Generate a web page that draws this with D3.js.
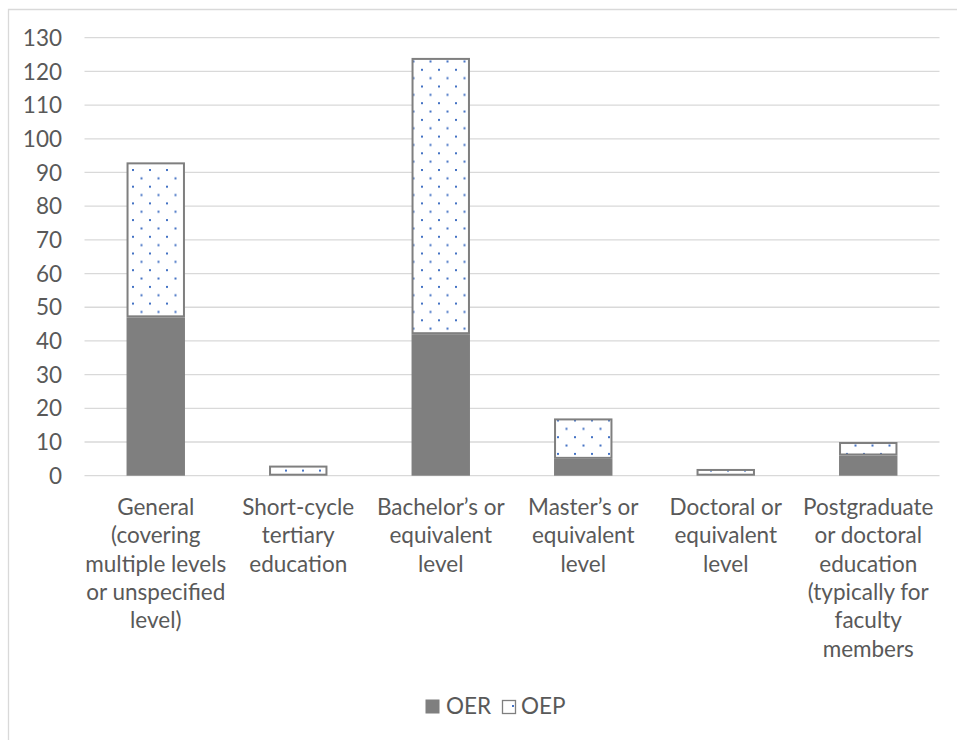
<!DOCTYPE html>
<html>
<head>
<meta charset="utf-8">
<script src="https://cdn.jsdelivr.net/npm/d3@7"></script>
<style>
  html, body { margin: 0; padding: 0; background: #fff; }
  svg { display: block; }
</style>
</head>
<body>
<svg id="chart" width="957" height="740"></svg>
<script>
// ---- data ----
const categories = [
  "General (covering multiple levels or unspecified level)",
  "Short-cycle tertiary education",
  "Bachelor’s or equivalent level",
  "Master’s or equivalent level",
  "Doctoral or equivalent level",
  "Postgraduate or doctoral education (typically for faculty members"
];
const categoryLines = [
  ["General", "(covering", "multiple levels", "or unspecified", "level)"],
  ["Short-cycle", "tertiary", "education"],
  ["Bachelor’s or", "equivalent", "level"],
  ["Master’s or", "equivalent", "level"],
  ["Doctoral or", "equivalent", "level"],
  ["Postgraduate", "or doctoral", "education", "(typically for", "faculty", "members"]
];
const oerValues = [47, 0, 42, 5, 0, 6];
const oepValues = [46, 3, 82, 12, 2, 4];
const seriesNames = ["OER", "OEP"];
const yTicks = [0, 10, 20, 30, 40, 50, 60, 70, 80, 90, 100, 110, 120, 130];

// ---- layout ----
const W = 957, H = 740;
const plot = { left: 84.5, right: 939.5, top: 37.7, bottom: 475.7 };
const textColor = "#595959";
const gridColor = "#d9d9d9";
const barGray = "#7f7f7f";
const dotBlue = "#4472c4";
const fontFamily = "Lato, 'Open Sans', sans-serif";

const svg = d3.select("#chart");

// fit font size so that Calibri-like widths are matched
const probe = svg.append("text").attr("font-family", fontFamily).attr("font-size", 100).text("multiple levels");
const probeW = probe.node().getComputedTextLength();
probe.remove();
const fs = Math.min(23, 100 * 141 / probeW);

// chart frame (cropped on the right/bottom in the reference)
svg.append("path")
  .attr("d", `M8.5,${H + 5} L8.5,9.5 L${W + 5},9.5`)
  .attr("fill", "none").attr("stroke", gridColor).attr("stroke-width", 1.3);

// pattern
const defs = svg.append("defs");
const pat = defs.append("pattern")
  .attr("id", "dots").attr("patternUnits", "userSpaceOnUse")
  .attr("width", 17).attr("height", 16.7)
  .attr("x", 132).attr("y", 169);
pat.append("rect").attr("width", 17).attr("height", 16.7).attr("fill", "#fff");
pat.append("rect").attr("x", 0).attr("y", 0).attr("width", 2).attr("height", 2).attr("fill", dotBlue);
pat.append("rect").attr("x", 8.5).attr("y", 8.35).attr("width", 2).attr("height", 2).attr("fill", dotBlue);

// scales
const x = d3.scaleBand().domain(categories).range([plot.left, plot.right]).paddingInner(0.59).paddingOuter(0.295);
const y = d3.scaleLinear().domain([0, 130]).range([plot.bottom, plot.top]);

// gridlines
svg.append("g").selectAll("line").data(yTicks).join("line")
  .attr("x1", plot.left).attr("x2", plot.right)
  .attr("y1", d => y(d)).attr("y2", d => y(d))
  .attr("stroke", gridColor).attr("stroke-width", 1.3);

// y axis labels
const yAxis = d3.axisLeft(y).tickValues(yTicks).tickSize(0).tickPadding(0);
const yg = svg.append("g").attr("transform", `translate(62,0)`).call(yAxis);
yg.select(".domain").remove();
yg.selectAll("text")
  .attr("font-family", fontFamily).attr("font-size", fs)
  .attr("fill", textColor).attr("dy", "0.34em");

// stacked data
const tableRows = categories.map((c, i) => ({ cat: c, OER: oerValues[i], OEP: oepValues[i] }));
const stacked = d3.stack().keys(seriesNames)(tableRows);

// OER bars
svg.append("g").selectAll("rect").data(stacked[0]).join("rect")
  .attr("x", d => x(d.data.cat)).attr("width", x.bandwidth())
  .attr("y", d => y(d[1])).attr("height", d => y(d[0]) - y(d[1]))
  .attr("fill", barGray);

// OEP bars
svg.append("g").selectAll("rect").data(stacked[1]).join("rect")
  .attr("x", d => x(d.data.cat) + 1).attr("width", x.bandwidth() - 2)
  .attr("y", d => y(d[1]) + 1).attr("height", d => Math.max(0, y(d[0]) - y(d[1]) - 2))
  .attr("fill", "url(#dots)")
  .attr("stroke", barGray).attr("stroke-width", 2);

// x axis labels
const xg = svg.append("g");
categories.forEach((c, i) => {
  const t = xg.append("text")
    .attr("x", x(c) + x.bandwidth() / 2).attr("y", 515)
    .attr("text-anchor", "middle")
    .attr("font-family", fontFamily).attr("font-size", fs).attr("fill", textColor);
  categoryLines[i].forEach((ln, j) => {
    t.append("tspan").attr("x", x(c) + x.bandwidth() / 2).attr("y", 515 + j * 28.3).text(ln);
  });
});

// legend
const lg = svg.append("g");
lg.append("rect").attr("x", 425.5).attr("y", 699.5).attr("width", 14).attr("height", 14).attr("fill", barGray);
lg.append("text").attr("x", 446).attr("y", 714).text(seriesNames[0])
  .attr("font-family", fontFamily).attr("font-size", fs).attr("fill", textColor);
lg.append("rect").attr("x", 502.5).attr("y", 700.5).attr("width", 13).attr("height", 13)
  .attr("fill", "#fff").attr("stroke", barGray).attr("stroke-width", 1.3);
lg.append("rect").attr("x", 512).attr("y", 705).attr("width", 2).attr("height", 2).attr("fill", dotBlue);
lg.append("text").attr("x", 521).attr("y", 714).text(seriesNames[1])
  .attr("font-family", fontFamily).attr("font-size", fs).attr("fill", textColor);
</script>
</body>
</html>
